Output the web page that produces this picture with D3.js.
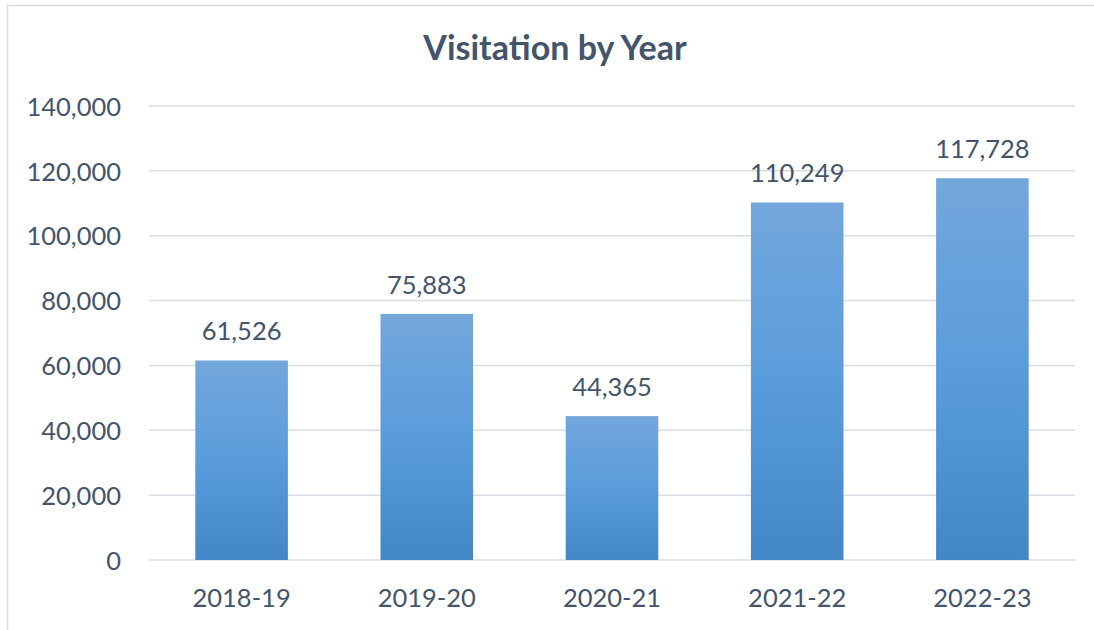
<!DOCTYPE html>
<html>
<head>
<meta charset="utf-8">
<script src="https://cdn.jsdelivr.net/npm/d3@7"></script>
<style>
    body { margin: 0; background: #fff; }
    text { font-family: Lato, "Open Sans", sans-serif; fill: #44546a; }
</style>
</head>
<body>
<div id="bar-chart"></div>
<script>
// data
const years = ["2018-19", "2019-20", "2020-21", "2021-22", "2022-23"];
const visits = [61526, 75883, 44365, 110249, 117728];
const yTicks = [0, 20000, 40000, 60000, 80000, 100000, 120000, 140000];

drawBarChart();

function drawBarChart(){

    var width = 1094, height = 630;
    var margin = {top: 106, right: 19, bottom: 70, left: 149};

    let svg = d3.select("#bar-chart")
        .append("svg")
        .attr("width", width)
        .attr("height", height);

    // chart frame
    svg.append("rect")
        .attr("x", 7.5)
        .attr("y", 5.5)
        .attr("width", width)
        .attr("height", height)
        .attr("fill", "none")
        .attr("stroke", "#d9d9d9")
        .attr("stroke-width", 1.5);

    // gradient for the bars
    var grad = svg.append("defs").append("linearGradient")
        .attr("id", "barFill")
        .attr("x1", 0).attr("y1", 0)
        .attr("x2", 0).attr("y2", 1);
    grad.append("stop").attr("offset", "0%").attr("stop-color", "#73a7dc");
    grad.append("stop").attr("offset", "50%").attr("stop-color", "#5a9cdb");
    grad.append("stop").attr("offset", "100%").attr("stop-color", "#4387c7");

    // scales
    var xScale = d3.scaleBand()
        .domain(years)
        .range([margin.left, width - margin.right])
        .paddingInner(0.5)
        .paddingOuter(0.25);

    var yScale = d3.scaleLinear()
        .domain([0, 140000])
        .range([height - margin.bottom, margin.top]);

    // grid lines
    svg.append("g")
        .selectAll("line")
        .data(yTicks)
        .enter()
        .append("line")
        .attr("x1", margin.left)
        .attr("x2", width - margin.right)
        .attr("y1", d => yScale(d))
        .attr("y2", d => yScale(d))
        .attr("stroke", "#d9dde4")
        .attr("stroke-width", 1.5);

    // y axis
    var yAxis = d3.axisLeft(yScale)
        .tickValues(yTicks)
        .tickFormat(d3.format(","))
        .tickSize(0)
        .tickPadding(0);
    svg.append("g")
        .attr("transform", "translate(121,0)")
        .call(yAxis)
        .call(g => g.select(".domain").remove())
        .call(g => g.selectAll("text")
            .attr("font-size", 25.5)
            .attr("dy", "0.36em")
            .attr("fill", null));

    // x axis
    var xAxis = d3.axisBottom(xScale)
        .tickSize(0)
        .tickPadding(0);
    svg.append("g")
        .attr("transform", "translate(0," + (height - margin.bottom) + ")")
        .call(xAxis)
        .call(g => g.select(".domain").remove())
        .call(g => g.selectAll("text")
            .attr("font-size", 25.5)
            .attr("y", 47)
            .attr("dy", 0)
            .attr("fill", null));
    svg.selectAll("g").attr("font-family", null);

    // bars
    svg.selectAll(".bar")
        .data(visits)
        .enter()
        .append("rect")
        .attr("class", "bar")
        .attr("x", (d, i) => xScale(years[i]))
        .attr("y", d => yScale(d))
        .attr("width", xScale.bandwidth())
        .attr("height", d => yScale(0) - yScale(d))
        .attr("fill", "url(#barFill)");

    // labels for bars
    svg.selectAll(".label")
        .data(visits)
        .enter()
        .append("text")
        .attr("class", "label")
        .attr("x", (d, i) => xScale(years[i]) + xScale.bandwidth() / 2)
        .attr("y", d => yScale(d) - 20)
        .attr("text-anchor", "middle")
        .attr("font-size", 25.5)
        .text(d => d3.format(",")(d));

    // title
    svg.append("text")
        .text("Visitation by Year")
        .attr("x", 555)
        .attr("y", 60)
        .attr("text-anchor", "middle")
        .attr("font-size", 34)
        .attr("font-weight", "bold");
}
</script>
</body>
</html>
